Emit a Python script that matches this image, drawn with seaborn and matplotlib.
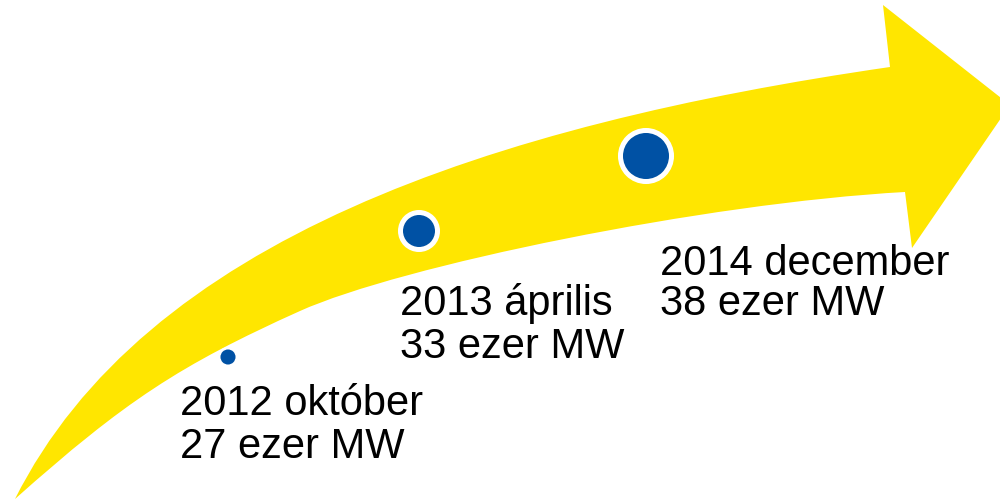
import matplotlib
matplotlib.use("Agg")
import matplotlib.pyplot as plt
from matplotlib.path import Path
from matplotlib.patches import PathPatch
import seaborn as sns

# milestones shown along the arrow
periods = ["2012 október", "2013 április", "2014 december"]
capacity = [27, 33, 38]  # ezer MW

# layout (pixel-like coordinates, y grows downwards)
dot_x = [228, 419, 646]
dot_y = [357, 231, 156]
dot_s = [160, 710, 1350]
dot_lw = [1.8, 3.6, 3.6]
label_x = [180, 400, 660]
label_y1 = [415, 315, 275]
label_y2 = [458, 358, 315]

yellow = "#FFE600"
blue = "#0051A4"

sns.set_theme(style="white")
plt.rcParams["font.family"] = ["Liberation Sans", "DejaVu Sans"]

fig = plt.figure(figsize=(10, 5.01), dpi=100)
ax = fig.add_axes([0, 0, 1, 1])
ax.set_xlim(0, 1000)
ax.set_ylim(501, 0)
ax.axis("off")

# curved arrow body + head
verts = [
    (15, 499),
    (145, 240), (490, 125), (890, 67),
    (883, 5),
    (1010, 105),
    (912, 248),
    (905, 192),
    (705, 203), (400, 266), (300, 311),
    (180, 365), (125, 401), (15, 499),
    (15, 499),
]
codes = [Path.MOVETO,
         Path.CURVE4, Path.CURVE4, Path.CURVE4,
         Path.LINETO, Path.LINETO, Path.LINETO, Path.LINETO,
         Path.CURVE4, Path.CURVE4, Path.CURVE4,
         Path.CURVE4, Path.CURVE4, Path.CURVE4,
         Path.CLOSEPOLY]
ax.add_patch(PathPatch(Path(verts, codes), facecolor=yellow, edgecolor="none", zorder=1))

sns.scatterplot(x=dot_x, y=dot_y, s=dot_s, color=blue, edgecolor="white",
                linewidth=dot_lw, ax=ax, zorder=3, legend=False)

for i, p in enumerate(periods):
    ax.text(label_x[i], label_y1[i], p, fontsize=30, color="black", va="baseline", ha="left")
    ax.text(label_x[i], label_y2[i], f"{capacity[i]} ezer MW", fontsize=30, color="black",
            va="baseline", ha="left")

fig.savefig("out.png", dpi=100)
